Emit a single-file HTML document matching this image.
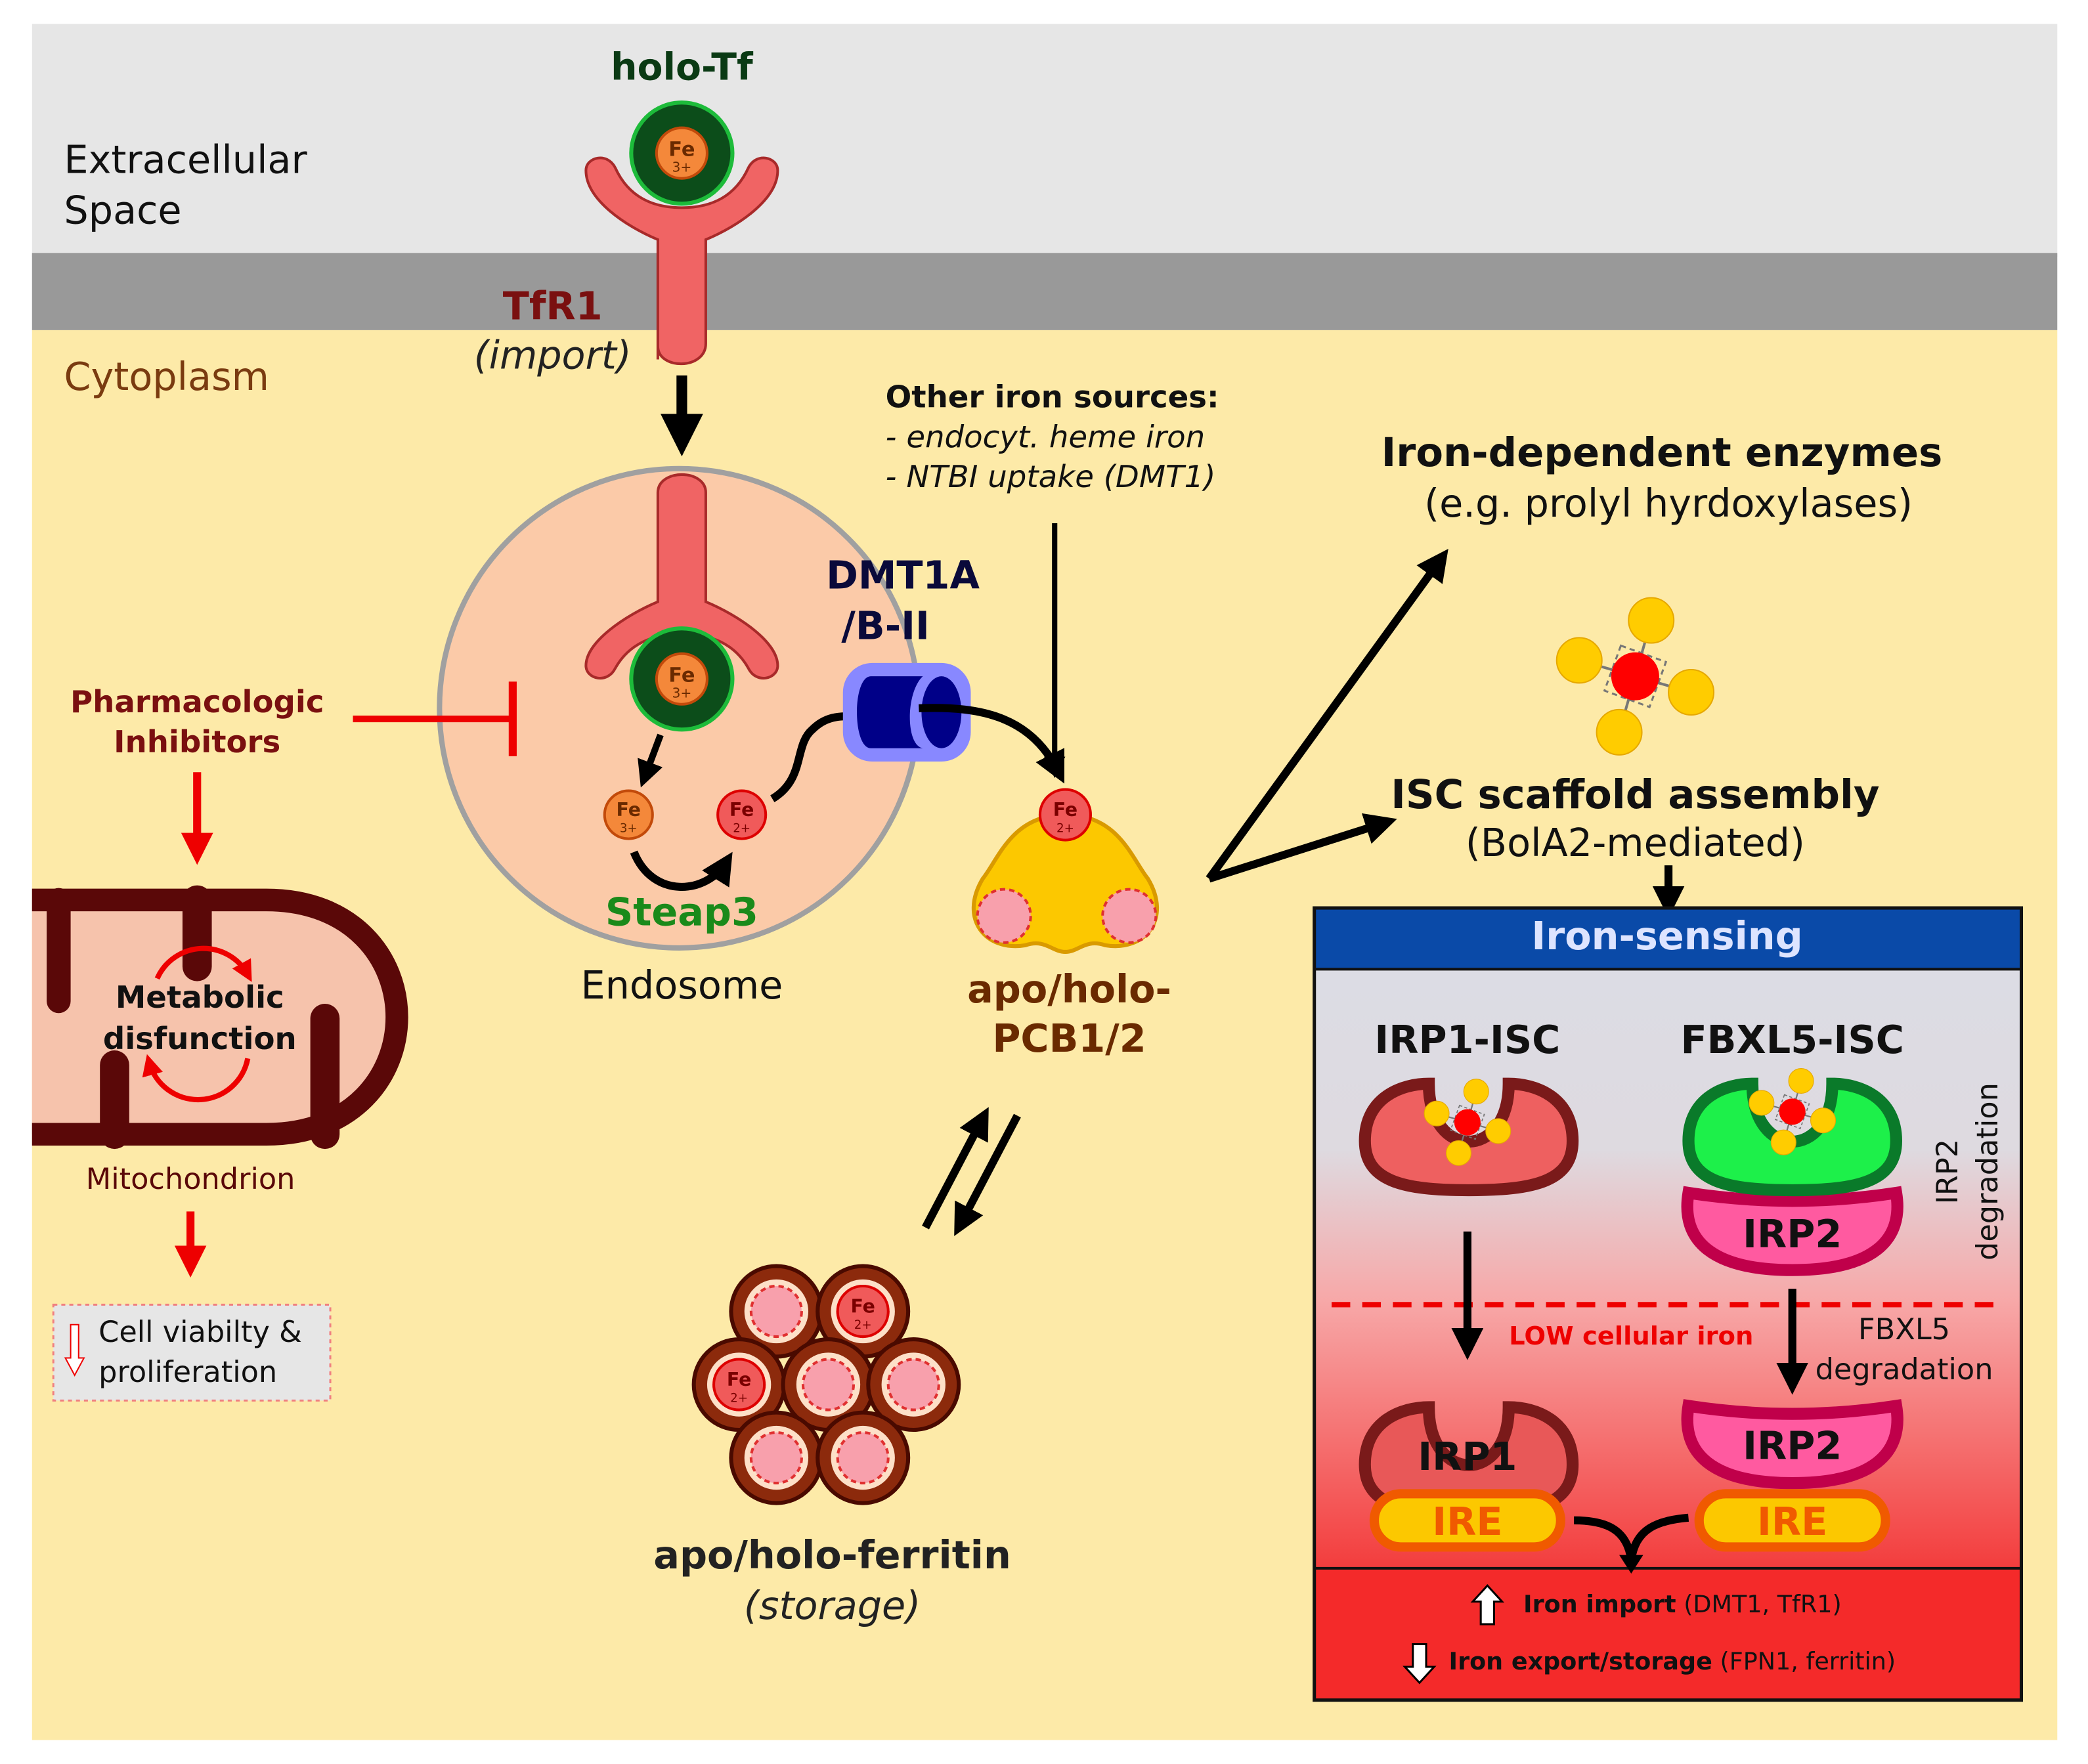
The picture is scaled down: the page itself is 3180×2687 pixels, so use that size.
<!DOCTYPE html>
<html><head><meta charset="utf-8"><style>
html,body{margin:0;padding:0;background:#fff}
svg{display:block}
text{font-family:"DejaVu Sans","Liberation Sans",sans-serif}
</style></head><body>
<svg width="3180" height="2687" viewBox="0 0 1568 1325" xmlns="http://www.w3.org/2000/svg">
<defs>
<clipPath id="cl"><rect x="24" y="600" width="400" height="300"/></clipPath>
<marker id="ah" viewBox="0 0 10 10" refX="6" refY="5" markerWidth="4" markerHeight="4" orient="auto"><path d="M0,0 L10,5 L0,10 Z" fill="#000"/></marker>
<marker id="ahr" viewBox="0 0 10 10" refX="6" refY="5" markerWidth="4" markerHeight="4" orient="auto"><path d="M0,0 L10,5 L0,10 Z" fill="#e00"/></marker>
<linearGradient id="gs" x1="0" y1="0" x2="0" y2="1">
<stop offset="0" stop-color="#dcdce4"/><stop offset="0.3" stop-color="#dedae0"/><stop offset="0.55" stop-color="#f7a8a8"/><stop offset="1" stop-color="#f33c3c"/></linearGradient>
<g id="isc"><rect x="-18" y="-18" width="36" height="36" fill="none" stroke="#777" stroke-dasharray="4,3" stroke-width="1.5" transform="rotate(20)"/>
<g stroke="#777" stroke-width="2"><line x1="0" y1="0" x2="12" y2="-42"/><line x1="0" y1="0" x2="42" y2="12"/><line x1="0" y1="0" x2="-12" y2="42"/><line x1="0" y1="0" x2="-42" y2="-12"/></g>
<circle cx="12" cy="-42" r="17" fill="#fc0" stroke="#e6a800"/><circle cx="42" cy="12" r="17" fill="#fc0" stroke="#e6a800"/><circle cx="-12" cy="42" r="17" fill="#fc0" stroke="#e6a800"/><circle cx="-42" cy="-12" r="17" fill="#fc0" stroke="#e6a800"/>
<circle cx="0" cy="0" r="18" fill="#f00"/></g>
<path id="cup" d="M -78,45 C -78,12 -50,2 -30,2 C -30,60 30,60 30,2 C 50,2 78,12 78,45 C 78,75 50,82 0,82 C -50,82 -78,75 -78,45 Z"/>
<path id="bowl" d="M -78,4 Q 0,16 78,4 C 84,40 60,62 0,62 C -60,62 -84,40 -78,4 Z"/>
<g id="fer"><circle r="34" fill="#8c2a0c" stroke="#4a0a00" stroke-width="3"/><circle r="24" fill="#fde0c8"/><circle r="19" fill="#f8a0ac" stroke="#e03030" stroke-width="2" stroke-dasharray="4,3"/></g>
</defs>

<rect x="0" y="0" width="1568" height="1325" fill="#fff"/>
<rect x="24" y="18" width="1521" height="175" fill="#e6e6e6"/>
<rect x="24" y="190" width="1521" height="58" fill="#999"/>
<rect x="24" y="248" width="1521" height="1059" fill="#fdeaa8"/>

<text x="48" y="130" font-size="29" fill="#111">Extracellular</text>
<text x="48" y="168" font-size="29" fill="#111">Space</text>
<text x="48" y="293" font-size="29" fill="#7a3b10">Cytoplasm</text>
<text x="512" y="60" font-size="28" font-weight="bold" fill="#0a3a14" text-anchor="middle">holo-Tf</text>

<path d="M 494,270 L 494,180 C 470,170 440,150 440,128 C 440,118 456,114 462,126 C 472,148 490,156 512,156 C 534,156 552,148 562,126 C 568,114 584,118 584,128 C 584,150 554,170 530,180 L 530,258 C 530,278 494,278 494,260 Z" fill="#f06464" stroke="#a82a2a" stroke-width="2"/>
<circle cx="512" cy="115" r="38" fill="#0c4d1a" stroke="#1dbb3a" stroke-width="3"/>
<circle cx="512" cy="115" r="19" fill="#f4883a" stroke="#c24a0a" stroke-width="2"/>
<text x="512" y="117" font-size="15" font-weight="bold" fill="#6a2a00" text-anchor="middle">Fe</text>
<text x="512" y="129" font-size="10" fill="#6a2a00" text-anchor="middle">3+</text>
<text x="415" y="240" font-size="29" font-weight="bold" fill="#7a1010" text-anchor="middle">TfR1</text>
<text x="415" y="277" font-size="29" font-style="italic" fill="#222" text-anchor="middle">(import)</text>
<line x1="512" y1="282" x2="512" y2="330" stroke="#000" stroke-width="8" marker-end="url(#ah)"/>

<circle cx="510" cy="532" r="180" fill="#fbcaa8" stroke="#a0a0a0" stroke-width="4"/>
<path d="M 494,370 C 494,352 530,352 530,370 L 530,452 C 554,462 584,482 584,500 C 584,510 568,514 562,502 C 552,484 534,476 512,476 C 490,476 472,484 462,502 C 456,514 440,510 440,500 C 440,482 470,462 494,452 Z" fill="#f06464" stroke="#a82a2a" stroke-width="2"/>
<circle cx="512" cy="510" r="38" fill="#0c4d1a" stroke="#1dbb3a" stroke-width="3"/>
<circle cx="512" cy="510" r="19" fill="#f4883a" stroke="#c24a0a" stroke-width="2"/>
<text x="512" y="512" font-size="15" font-weight="bold" fill="#6a2a00" text-anchor="middle">Fe</text>
<text x="512" y="524" font-size="10" fill="#6a2a00" text-anchor="middle">3+</text>
<line x1="496" y1="552" x2="484" y2="584" stroke="#000" stroke-width="5" marker-end="url(#ah)"/>
<circle cx="472" cy="612" r="18" fill="#f4883a" stroke="#c24a0a" stroke-width="2"/>
<text x="472" y="613" font-size="14" font-weight="bold" fill="#6a2a00" text-anchor="middle">Fe</text>
<text x="472" y="625" font-size="9" fill="#6a2a00" text-anchor="middle">3+</text>
<circle cx="557" cy="612" r="18" fill="#f05a5a" stroke="#d00" stroke-width="2"/>
<text x="557" y="613" font-size="14" font-weight="bold" fill="#7a0000" text-anchor="middle">Fe</text>
<text x="557" y="625" font-size="9" fill="#7a0000" text-anchor="middle">2+</text>
<path d="M 476,640 C 490,675 530,672 545,648" fill="none" stroke="#000" stroke-width="6" marker-end="url(#ah)"/>
<path d="M 580,600 C 605,585 596,560 610,548 C 620,538 630,538 640,538" fill="none" stroke="#000" stroke-width="6"/>
<text x="512" y="695" font-size="29" font-weight="bold" fill="#1a8a1a" text-anchor="middle">Steap3</text>
<text x="512" y="750" font-size="29" fill="#111" text-anchor="middle">Endosome</text>

<text x="678" y="442" font-size="29" font-weight="bold" fill="#0a0a3a" text-anchor="middle">DMT1A</text>
<text x="665" y="480" font-size="29" font-weight="bold" fill="#0a0a3a" text-anchor="middle">/B-II</text>
<rect x="633" y="498" width="96" height="74" rx="22" fill="#8888ff"/>
<path d="M 654,508 L 693,508 C 680,520 680,560 693,562 L 654,562 C 640,562 640,508 654,508 Z" fill="#000088"/>
<ellipse cx="707" cy="535" rx="15" ry="27" fill="#000088"/>
<path d="M 690,532 C 740,530 775,540 795,580" fill="none" stroke="#000" stroke-width="6" marker-end="url(#ah)"/>

<text x="665" y="306" font-size="23" font-weight="bold" fill="#111">Other iron sources:</text>
<text x="665" y="336" font-size="23" font-style="italic" fill="#111">- endocyt. heme iron</text>
<text x="665" y="366" font-size="23" font-style="italic" fill="#111">- NTBI uptake (DMT1)</text>
<line x1="792" y1="393" x2="792" y2="578" stroke="#000" stroke-width="4" marker-end="url(#ah)"/>

<path d="M 800,612 C 840,612 850,645 862,660 C 880,690 860,715 830,710 C 815,705 810,715 800,715 C 790,715 785,705 770,710 C 740,715 720,690 738,660 C 750,645 760,612 800,612 Z" fill="#fcc800" stroke="#d99a00" stroke-width="3"/>
<circle cx="800" cy="612" r="19" fill="#f05a5a" stroke="#d00" stroke-width="2"/>
<text x="800" y="613" font-size="14" font-weight="bold" fill="#7a0000" text-anchor="middle">Fe</text>
<text x="800" y="625" font-size="9" fill="#7a0000" text-anchor="middle">2+</text>
<circle cx="754" cy="688" r="20" fill="#f8a0ac" stroke="#e03030" stroke-width="2" stroke-dasharray="4,3"/>
<circle cx="848" cy="688" r="20" fill="#f8a0ac" stroke="#e03030" stroke-width="2" stroke-dasharray="4,3"/>
<text x="803" y="753" font-size="29" font-weight="bold" fill="#6a2a00" text-anchor="middle">apo/holo-</text>
<text x="803" y="790" font-size="29" font-weight="bold" fill="#6a2a00" text-anchor="middle">PCB1/2</text>

<line x1="695" y1="922" x2="738" y2="840" stroke="#000" stroke-width="6" marker-end="url(#ah)"/>
<line x1="764" y1="838" x2="721" y2="920" stroke="#000" stroke-width="6" marker-end="url(#ah)"/>

<use href="#fer" x="583" y="985"/><use href="#fer" x="648" y="985"/>
<use href="#fer" x="555" y="1040"/><use href="#fer" x="622" y="1040"/><use href="#fer" x="686" y="1040"/>
<use href="#fer" x="583" y="1095"/><use href="#fer" x="648" y="1095"/>
<circle cx="648" cy="985" r="19" fill="#f05a5a" stroke="#d00" stroke-width="2"/>
<text x="648" y="986" font-size="14" font-weight="bold" fill="#7a0000" text-anchor="middle">Fe</text>
<text x="648" y="998" font-size="9" fill="#7a0000" text-anchor="middle">2+</text>
<circle cx="555" cy="1040" r="19" fill="#f05a5a" stroke="#d00" stroke-width="2"/>
<text x="555" y="1041" font-size="14" font-weight="bold" fill="#7a0000" text-anchor="middle">Fe</text>
<text x="555" y="1053" font-size="9" fill="#7a0000" text-anchor="middle">2+</text>
<text x="625" y="1178" font-size="29" font-weight="bold" fill="#222" text-anchor="middle">apo/holo-ferritin</text>
<text x="625" y="1216" font-size="29" font-style="italic" fill="#222" text-anchor="middle">(storage)</text>

<text x="148" y="535" font-size="23" font-weight="bold" fill="#7a1010" text-anchor="middle">Pharmacologic</text>
<text x="148" y="565" font-size="23" font-weight="bold" fill="#7a1010" text-anchor="middle">Inhibitors</text>
<line x1="265" y1="540" x2="385" y2="540" stroke="#e00" stroke-width="5"/>
<line x1="385" y1="512" x2="385" y2="568" stroke="#e00" stroke-width="6"/>
<line x1="148" y1="580" x2="148" y2="640" stroke="#e00" stroke-width="6" marker-end="url(#ahr)"/>

<g clip-path="url(#cl)">
<path d="M 10,676 L 200,676 C 265,676 298,720 298,764 C 298,808 265,852 200,852 L 10,852 Z" fill="#f6c3ac" stroke="#5a0808" stroke-width="17"/>
<line x1="148" y1="676" x2="148" y2="726" stroke="#5a0808" stroke-width="22" stroke-linecap="round"/>
<line x1="44" y1="676" x2="44" y2="752" stroke="#5a0808" stroke-width="18" stroke-linecap="round"/>
<line x1="86" y1="852" x2="86" y2="800" stroke="#5a0808" stroke-width="22" stroke-linecap="round"/>
<line x1="244" y1="852" x2="244" y2="765" stroke="#5a0808" stroke-width="22" stroke-linecap="round"/>
</g>
<path d="M 118,735 A 38,38 0 0 1 186,732" fill="none" stroke="#e00" stroke-width="4" marker-end="url(#ahr)"/>
<path d="M 186,795 A 38,38 0 0 1 112,798" fill="none" stroke="#e00" stroke-width="4" marker-end="url(#ahr)"/>
<text x="150" y="757" font-size="23" font-weight="bold" fill="#111" text-anchor="middle">Metabolic</text>
<text x="150" y="788" font-size="23" font-weight="bold" fill="#111" text-anchor="middle">disfunction</text>
<text x="143" y="893" font-size="22" fill="#5a0808" text-anchor="middle">Mitochondrion</text>
<line x1="143" y1="910" x2="143" y2="950" stroke="#e00" stroke-width="6" marker-end="url(#ahr)"/>
<rect x="40" y="980" width="208" height="72" fill="#e6e6e6" stroke="#f08080" stroke-width="1.5" stroke-dasharray="3,3"/>
<path d="M 53,995 L 59,995 L 59,1020 L 63,1020 L 56,1033 L 49,1020 L 53,1020 Z" fill="#fff" stroke="#e00" stroke-width="1"/>
<text x="74" y="1008" font-size="22" fill="#111">Cell viabilty &amp;</text>
<text x="74" y="1038" font-size="22" fill="#111">proliferation</text>

<line x1="908" y1="660" x2="1082" y2="420" stroke="#000" stroke-width="6" marker-end="url(#ah)"/>
<line x1="908" y1="660" x2="1040" y2="618" stroke="#000" stroke-width="6" marker-end="url(#ah)"/>
<text x="1248" y="350" font-size="30" font-weight="bold" fill="#111" text-anchor="middle">Iron-dependent enzymes</text>
<text x="1253" y="388" font-size="29" fill="#111" text-anchor="middle">(e.g. prolyl hyrdoxylases)</text>
<use href="#isc" transform="translate(1228,508)"/>
<text x="1228" y="607" font-size="30" font-weight="bold" fill="#111" text-anchor="middle">ISC scaffold assembly</text>
<text x="1228" y="643" font-size="29" fill="#111" text-anchor="middle">(BolA2-mediated)</text>
<line x1="1253" y1="650" x2="1253" y2="680" stroke="#000" stroke-width="6" marker-end="url(#ah)"/>

<rect x="987" y="728" width="531" height="452" fill="url(#gs)"/>
<rect x="987" y="682" width="531" height="46" fill="#0a4aa8"/>
<text x="1252" y="713" font-size="29" font-weight="bold" fill="#dde4ff" text-anchor="middle">Iron-sensing</text>
<rect x="987" y="1178" width="531" height="99" fill="#f42a2a"/>
<rect x="987" y="682" width="531" height="595" fill="none" stroke="#111" stroke-width="2.5"/>
<line x1="987" y1="728" x2="1518" y2="728" stroke="#111" stroke-width="2"/>
<line x1="987" y1="1178" x2="1518" y2="1178" stroke="#111" stroke-width="2"/>

<text x="1102" y="791" font-size="29" font-weight="bold" fill="#111" text-anchor="middle">IRP1-ISC</text>
<text x="1346" y="791" font-size="29" font-weight="bold" fill="#111" text-anchor="middle">FBXL5-ISC</text>
<use href="#cup" x="1103" y="812" fill="#ee6060" stroke="#7a1a1a" stroke-width="9"/>
<use href="#isc" transform="translate(1102,843) scale(0.55)"/>
<use href="#bowl" x="1346" y="892" fill="#ff5aa0" stroke="#c0004a" stroke-width="9"/>
<use href="#cup" x="1346" y="812" fill="#1df04a" stroke="#0a7a2a" stroke-width="9"/>
<use href="#isc" transform="translate(1346,835) scale(0.55)"/>
<text x="1346" y="937" font-size="29" font-weight="bold" fill="#111" text-anchor="middle">IRP2</text>
<text transform="translate(1470,880) rotate(-90)" font-size="22" fill="#111" text-anchor="middle">IRP2</text>
<text transform="translate(1500,880) rotate(-90)" font-size="22" fill="#111" text-anchor="middle">degradation</text>
<line x1="1000" y1="980" x2="1505" y2="980" stroke="#e00" stroke-width="4" stroke-dasharray="14,9"/>
<line x1="1102" y1="925" x2="1102" y2="1012" stroke="#000" stroke-width="6" marker-end="url(#ah)"/>
<line x1="1346" y1="968" x2="1346" y2="1038" stroke="#000" stroke-width="6" marker-end="url(#ah)"/>
<text x="1225" y="1010" font-size="19" font-weight="bold" fill="#e00" text-anchor="middle">LOW cellular iron</text>
<text x="1430" y="1006" font-size="22" fill="#111" text-anchor="middle">FBXL5</text>
<text x="1430" y="1036" font-size="22" fill="#111" text-anchor="middle">degradation</text>

<use href="#cup" x="1103" y="1055" fill="#e85858" stroke="#7a1a1a" stroke-width="9"/>
<text x="1102" y="1104" font-size="29" font-weight="bold" fill="#111" text-anchor="middle">IRP1</text>
<rect x="1032" y="1122" width="140" height="40" rx="20" fill="#fcc800" stroke="#f05a00" stroke-width="7"/>
<text x="1102" y="1153" font-size="29" font-weight="bold" fill="#f05a00" text-anchor="middle">IRE</text>
<use href="#bowl" x="1346" y="1052" fill="#ff5aa0" stroke="#c0004a" stroke-width="9"/>
<text x="1346" y="1096" font-size="29" font-weight="bold" fill="#111" text-anchor="middle">IRP2</text>
<rect x="1276" y="1122" width="140" height="40" rx="20" fill="#fcc800" stroke="#f05a00" stroke-width="7"/>
<text x="1346" y="1153" font-size="29" font-weight="bold" fill="#f05a00" text-anchor="middle">IRE</text>
<path d="M 1182,1142 C 1205,1142 1222,1148 1225,1172 M 1268,1140 C 1245,1142 1228,1148 1225,1172" fill="none" stroke="#000" stroke-width="6"/>
<path d="M 1216,1168 L 1234,1168 L 1225,1182 Z" fill="#000"/>

<path d="M 1112,1220 L 1112,1203 L 1106,1203 L 1117,1191 L 1128,1203 L 1122,1203 L 1122,1220 Z" fill="#fff" stroke="#000" stroke-width="1.5"/>
<text x="1144" y="1211" font-size="18" fill="#111"><tspan font-weight="bold">Iron import</tspan> (DMT1, TfR1)</text>
<path d="M 1061,1235 L 1071,1235 L 1071,1252 L 1077,1252 L 1066,1264 L 1055,1252 L 1061,1252 Z" fill="#fff" stroke="#000" stroke-width="1.5"/>
<text x="1088" y="1254" font-size="18" fill="#111"><tspan font-weight="bold">Iron export/storage</tspan> (FPN1, ferritin)</text>
</svg>
</body></html>
